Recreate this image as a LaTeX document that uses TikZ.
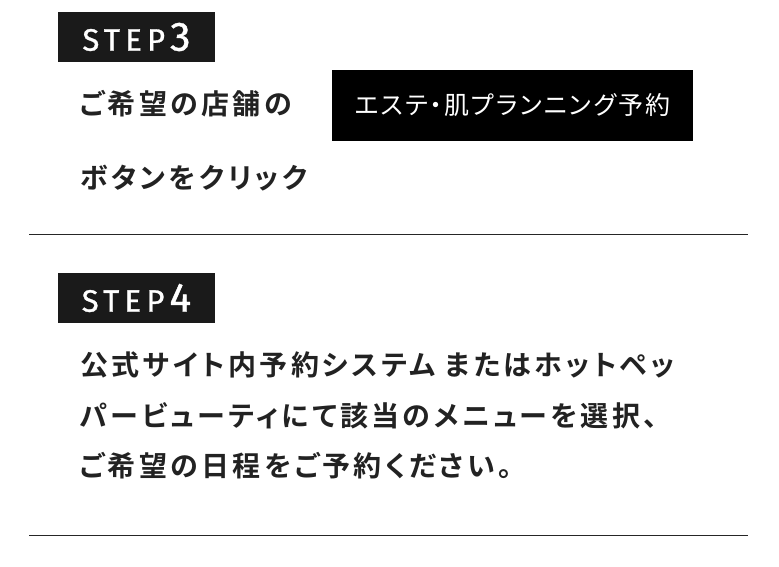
\documentclass[tikz,border=0pt]{standalone}
\usepackage{fontspec}
\usepackage{tikz}
\usetikzlibrary{positioning}

\newfontfamily\jpbody[LetterSpace=12,RawFeature=+palt]{Noto Sans CJK JP Bold}
\newfontfamily\jpbutton[LetterSpace=8,RawFeature=+palt]{Noto Sans CJK JP}
\newfontfamily\steplabel[LetterSpace=17,FakeBold=1]{Fira Sans}
\definecolor{inkgray}{HTML}{222222}
\definecolor{stepfill}{HTML}{1A1A1A}

\begin{document}
\begin{tikzpicture}[x=1pt,y=-1pt,
    stepbox/.style={fill=stepfill, text=white, minimum width=157pt,
      minimum height=50pt, inner sep=0pt,
      font=\steplabel\fontsize{31}{31}\selectfont},
    btnbox/.style={fill=black, text=white, minimum width=361pt,
      minimum height=71pt, inner sep=0pt,
      font=\jpbutton\fontsize{25}{25}\selectfont},
    bodytext/.style={anchor=west, inner sep=0pt, text=inkgray},
    rule/.style={draw=black!85, line width=1pt}]

   \useasboundingbox (0,0) rectangle (779,566);

   % step 3
   \node[stepbox] (step3) at (136.5,37) {STEP\hspace{5pt}\fontsize{41}{41}\selectfont 3};
   \node[bodytext, font=\jpbody\fontsize{28}{28}\selectfont] (shop) at (80,104) {ご希望の店舗の};
   \node[bodytext, font=\jpbody\fontsize{28}{28}\selectfont] (click) at (80,178) {ボタンをクリック};
   \node[btnbox] (btn) at (512.5,105.5) {エステ・肌プランニング予約};

   \draw[rule] (29,234) -- (748,234);

   % step 4
   \node[stepbox] (step4) at (136.5,298) {STEP\hspace{5pt}\fontsize{41}{41}\selectfont 4};
   \node[bodytext, font=\jpbody\fontsize{28}{28}\selectfont] (lineA) at (80,365) {公式サイト内予約システム またはホットペッ};
   \node[bodytext, font=\jpbody\fontsize{28}{28}\selectfont] (lineB) at (80,416) {パービューティにて該当のメニューを選択、};
   \node[bodytext, font=\jpbody\fontsize{28}{28}\selectfont] (lineC) at (80,466) {ご希望の日程をご予約ください。};

   \draw[rule] (29,535) -- (748,535);

\end{tikzpicture}
\end{document}
